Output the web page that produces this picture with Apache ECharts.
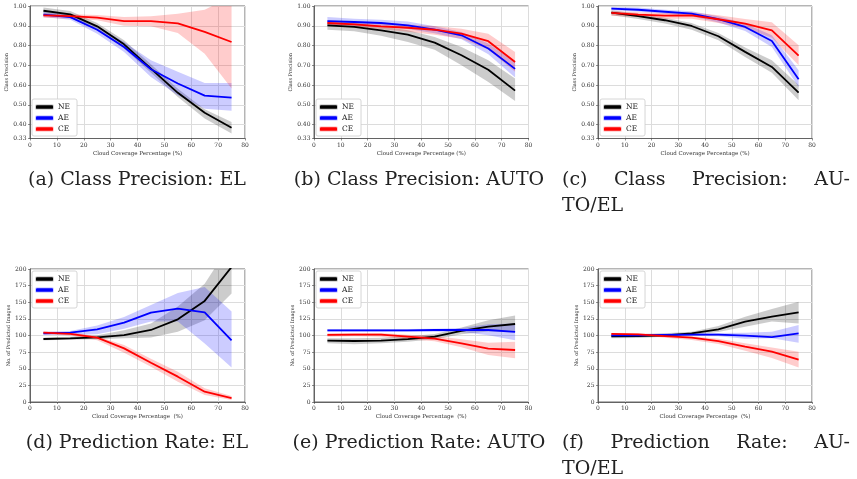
<!DOCTYPE html>
<html>
<head>
<meta charset="utf-8">
<script src="https://cdn.jsdelivr.net/npm/echarts@6.0.0/dist/echarts.min.js"></script>
<style>
  html, body { margin: 0; padding: 0; background: #fff; }
  #main { width: 857px; height: 479px; }
</style>
</head>
<body>
<div id="main"></div>
<script>
// cloud coverage bins (%)
var cover = [5, 15, 25, 35, 45, 55, 65, 75];

// (a) class precision, EL
var elPrecNE = [0.976, 0.958, 0.897, 0.806, 0.683, 0.561, 0.46, 0.384];
var elPrecNELo = [0.961, 0.94, 0.877, 0.785, 0.662, 0.54, 0.431, 0.355];
var elPrecNEHi = [0.993, 0.975, 0.914, 0.827, 0.705, 0.582, 0.478, 0.414];
var elPrecAE = [0.956, 0.944, 0.88, 0.793, 0.68, 0.608, 0.547, 0.537];
var elPrecAELo = [0.944, 0.93, 0.86, 0.768, 0.641, 0.549, 0.481, 0.47];
var elPrecAEHi = [0.97, 0.958, 0.897, 0.818, 0.726, 0.667, 0.611, 0.611];
var elPrecCE = [0.953, 0.949, 0.941, 0.924, 0.924, 0.912, 0.869, 0.818];
var elPrecCELo = [0.941, 0.936, 0.928, 0.9, 0.897, 0.864, 0.759, 0.583];
var elPrecCEHi = [0.961, 0.958, 0.955, 0.944, 0.948, 0.961, 0.981, 1.05];

// (b) class precision, AUTO
var autoPrecNE = [0.902, 0.894, 0.877, 0.855, 0.815, 0.751, 0.678, 0.572];
var autoPrecNELo = [0.88, 0.872, 0.85, 0.818, 0.779, 0.70, 0.616, 0.52];
var autoPrecNEHi = [0.919, 0.914, 0.897, 0.877, 0.843, 0.793, 0.726, 0.633];
var autoPrecAE = [0.924, 0.919, 0.914, 0.902, 0.88, 0.852, 0.785, 0.682];
var autoPrecAELo = [0.907, 0.902, 0.897, 0.884, 0.862, 0.832, 0.756, 0.638];
var autoPrecAEHi = [0.944, 0.936, 0.931, 0.921, 0.897, 0.869, 0.81, 0.717];
var autoPrecCE = [0.914, 0.907, 0.897, 0.89, 0.88, 0.86, 0.822, 0.717];
var autoPrecCELo = [0.901, 0.894, 0.884, 0.87, 0.854, 0.835, 0.78, 0.667];
var autoPrecCEHi = [0.928, 0.921, 0.911, 0.907, 0.899, 0.885, 0.86, 0.768];

// (c) class precision, AUTO/EL
var mixPrecNE = [0.966, 0.949, 0.928, 0.899, 0.847, 0.768, 0.692, 0.562];
var mixPrecNELo = [0.953, 0.934, 0.911, 0.88, 0.827, 0.742, 0.662, 0.524];
var mixPrecNEHi = [0.978, 0.961, 0.941, 0.914, 0.864, 0.79, 0.726, 0.6];
var mixPrecAE = [0.987, 0.981, 0.971, 0.961, 0.933, 0.894, 0.823, 0.63];
var mixPrecAELo = [0.978, 0.971, 0.961, 0.948, 0.916, 0.874, 0.793, 0.591];
var mixPrecAEHi = [0.995, 0.992, 0.981, 0.973, 0.948, 0.911, 0.852, 0.675];
var mixPrecCE = [0.965, 0.956, 0.951, 0.953, 0.933, 0.911, 0.877, 0.749];
var mixPrecCELo = [0.951, 0.944, 0.936, 0.936, 0.914, 0.887, 0.84, 0.70];
var mixPrecCEHi = [0.975, 0.968, 0.965, 0.968, 0.953, 0.934, 0.918, 0.801];

// (d) no. of predicted images, EL
var elRateNE = [94.7, 95.7, 97.2, 100.7, 108.3, 124.3, 152, 203];
var elRateNELo = [92.7, 93.7, 94.2, 95.7, 97, 105.8, 123, 163];
var elRateNEHi = [96.7, 98.2, 100.3, 108, 118, 143.6, 178, 240];
var elRateAE = [103.3, 104.3, 109.3, 119.3, 134.3, 140.4, 134.8, 92.7];
var elRateAELo = [100.8, 100.8, 102, 110, 121, 121, 88, 52];
var elRateAEHi = [105.8, 106.8, 115, 128, 146, 164, 173, 136];
var elRateCE = [104.3, 102.3, 96.7, 80.7, 59.1, 38.1, 15.5, 6];
var elRateCELo = [102.3, 100, 93, 74.2, 53, 30.6, 10.5, 3];
var elRateCEHi = [106, 105, 99, 85.7, 65, 45.6, 20.5, 9];

// (e) no. of predicted images, AUTO
var autoRateNE = [92.2, 91.7, 92.2, 94.7, 98.2, 106.8, 113.3, 117.3];
var autoRateNELo = [88.3, 87, 88.3, 90.7, 94.2, 102, 106, 106];
var autoRateNEHi = [96, 96, 96.5, 99, 102.3, 112, 123, 130];
var autoRateAE = [107.8, 107.8, 107.8, 107.8, 108.3, 108.3, 108.3, 105.3];
var autoRateAELo = [105.8, 105.8, 105.8, 105.8, 105.8, 105.3, 100.5, 93];
var autoRateAEHi = [109.8, 109.8, 109.8, 109.8, 110.3, 111.3, 117, 118];
var autoRateCE = [100.8, 101.3, 101.3, 98.2, 95.2, 88.2, 80.2, 78.2];
var autoRateCELo = [98.2, 98.7, 98.2, 94.2, 91.2, 82.2, 70.7, 65.7];
var autoRateCEHi = [103.3, 103.8, 103.8, 101.3, 99.2, 94.2, 89.2, 90.7];

// (f) no. of predicted images, AUTO/EL
var mixRateNE = [98.7, 99.2, 100.3, 103.3, 109.3, 120.8, 128.3, 134.8];
var mixRateNELo = [95.7, 96.2, 98.2, 100.8, 105.3, 113.3, 121, 118];
var mixRateNEHi = [101.3, 101.8, 103.3, 105.8, 114.3, 128.3, 139.8, 150.9];
var mixRateAE = [100.3, 100.3, 100.8, 101.3, 101.3, 99.7, 97.7, 103.3];
var mixRateAELo = [98.2, 98.2, 98.7, 99.2, 98.7, 95.2, 95.7, 89.2];
var mixRateAEHi = [102.3, 102.3, 102.8, 103.3, 103.8, 104.3, 105.8, 115.8];
var mixRateCE = [102.3, 101.8, 99.2, 96.7, 91.7, 83.2, 75.7, 63.7];
var mixRateCELo = [100.8, 100.3, 96.7, 93.2, 87.2, 77.2, 66, 52];
var mixRateCEHi = [103.8, 103.3, 101.3, 98.7, 95.2, 88.2, 82, 75.7];

var precTicks = [0.33, 0.40, 0.50, 0.60, 0.70, 0.80, 0.90, 1.00];

var panels = [
  { NE: [elPrecNE, elPrecNELo, elPrecNEHi], AE: [elPrecAE, elPrecAELo, elPrecAEHi], CE: [elPrecCE, elPrecCELo, elPrecCEHi] },
  { NE: [autoPrecNE, autoPrecNELo, autoPrecNEHi], AE: [autoPrecAE, autoPrecAELo, autoPrecAEHi], CE: [autoPrecCE, autoPrecCELo, autoPrecCEHi] },
  { NE: [mixPrecNE, mixPrecNELo, mixPrecNEHi], AE: [mixPrecAE, mixPrecAELo, mixPrecAEHi], CE: [mixPrecCE, mixPrecCELo, mixPrecCEHi] },
  { NE: [elRateNE, elRateNELo, elRateNEHi], AE: [elRateAE, elRateAELo, elRateAEHi], CE: [elRateCE, elRateCELo, elRateCEHi] },
  { NE: [autoRateNE, autoRateNELo, autoRateNEHi], AE: [autoRateAE, autoRateAELo, autoRateAEHi], CE: [autoRateCE, autoRateCELo, autoRateCEHi] },
  { NE: [mixRateNE, mixRateNELo, mixRateNEHi], AE: [mixRateAE, mixRateAELo, mixRateAEHi], CE: [mixRateCE, mixRateCELo, mixRateCEHi] }
];

var colors = { NE: '#000000', AE: '#0000ff', CE: '#ff0000' };
var bands = { NE: 'rgba(0,0,0,0.2)', AE: 'rgba(0,0,255,0.2)', CE: 'rgba(255,0,0,0.2)' };
var serif = '"DejaVu Serif", serif';
var capFont = '19px "DejaVu Serif", serif';

var lefts = [30, 314, 598];
var widths = [215, 214.5, 214];

var myChart = echarts.init(document.getElementById('main'));

var grid = [], xAxis = [], yAxis = [], series = [], legend = [];

// shaded band between lo and hi, drawn once as a polygon through the axis scales
function bandItem(lo, hi, fill) {
  return function (params, api) {
    if (params.dataIndex !== 0) return null;
    var pts = [];
    for (var j = 0; j < cover.length; j++) pts.push(api.coord([cover[j], lo[j]]));
    for (var j = cover.length - 1; j >= 0; j--) pts.push(api.coord([cover[j], hi[j]]));
    return { type: 'polygon', shape: { points: pts }, style: { fill: fill } };
  };
}

panels.forEach(function (p, i) {
  var col = i % 3, row = Math.floor(i / 3);
  var isPrec = row === 0;
  grid.push({
    left: lefts[col], top: isPrec ? 6 : 269, width: widths[col], height: isPrec ? 132.5 : 133,
    show: true, borderColor: '#444', borderWidth: 0.8
  });
  xAxis.push({
    gridIndex: i, type: 'value', min: 0, max: 80, interval: 10,
    name: isPrec ? 'Cloud Coverage Percentage (%)' : 'Cloud Coverage Percentage  (%)',
    nameLocation: 'middle', nameGap: 12,
    nameTextStyle: { fontFamily: serif, fontSize: 5.5, color: '#333' },
    axisLine: { lineStyle: { color: '#444', width: 0.8 } },
    axisTick: { length: 2, lineStyle: { color: '#444', width: 0.6 } },
    axisLabel: { fontFamily: serif, fontSize: 6, color: '#333', margin: 3.5 },
    splitLine: { show: true, lineStyle: { color: '#dcdcdc', width: 1 } }
  });
  yAxis.push({
    gridIndex: i, type: 'value',
    min: isPrec ? 0.33 : 0, max: isPrec ? 1 : 200,
    interval: isPrec ? undefined : 25,
    name: isPrec ? 'Class Precision' : 'No. of Predicted Images',
    nameLocation: 'middle', nameGap: isPrec ? 19.5 : 18.5,
    nameTextStyle: { fontFamily: serif, fontSize: 5, color: '#333' },
    axisLine: { show: true, lineStyle: { color: '#444', width: 0.8 } },
    axisTick: { show: true, length: 2, lineStyle: { color: '#444', width: 0.6 },
      customValues: isPrec ? precTicks : undefined },
    axisLabel: { fontFamily: serif, fontSize: 6, color: '#333', margin: 3.5,
      customValues: isPrec ? precTicks : undefined,
      formatter: isPrec ? function (v) { return v.toFixed(2); } : '{value}' },
    splitLine: { show: true, lineStyle: { color: '#dcdcdc', width: 1 } }
  });

  ['NE', 'AE', 'CE'].forEach(function (k) {
    var mean = p[k][0], lo = p[k][1], hi = p[k][2];
    series.push({
      name: k + ' band', type: 'custom', xAxisIndex: i, yAxisIndex: i,
      silent: true, clip: true,
      renderItem: bandItem(lo, hi, bands[k]),
      encode: { x: 0, y: [1, 2] },
      data: cover.map(function (x, j) { return [x, lo[j], hi[j]]; }),
      z: 1
    });
    series.push({
      name: k, type: 'line', xAxisIndex: i, yAxisIndex: i,
      symbol: 'none', silent: true,
      itemStyle: { color: colors[k], borderColor: bands[k], borderWidth: 1.5 },
      lineStyle: { color: colors[k], width: 1.8 },
      data: cover.map(function (x, j) { return [x, mean[j]]; }),
      z: 3
    });
  });

  legend.push({
    orient: 'vertical', left: lefts[col] + 2, top: isPrec ? 99 : 271,
    data: ['NE', 'AE', 'CE'], icon: 'roundRect',
    itemWidth: 17, itemHeight: 3.5, itemGap: 3, selectedMode: false,
    textStyle: { fontFamily: serif, fontSize: 7.5, color: '#222' },
    backgroundColor: '#fff', borderColor: '#cccccc', borderWidth: 0.8, borderRadius: 2,
    padding: [4, 7, 3, 3]
  });
});

// captions under each panel
var ctx = document.createElement('canvas').getContext('2d');
ctx.font = capFont;

function capText(text, x, y, align) {
  return { type: 'text', x: x, y: y, silent: true,
    style: { text: text, font: capFont, fill: '#222', textAlign: align, textVerticalAlign: 'middle' } };
}

function justified(words, x0, x1, y) {
  var total = 0;
  words.forEach(function (w) { total += ctx.measureText(w).width; });
  var gap = (x1 - x0 - total) / (words.length - 1);
  var x = x0, out = [];
  words.forEach(function (w) {
    out.push(capText(w, x, y, 'left'));
    x += ctx.measureText(w).width + gap;
  });
  return out;
}

var graphic = [
  capText('(a) Class Precision: EL', 137, 180, 'center'),
  capText('(b) Class Precision: AUTO', 419, 180, 'center'),
  capText('TO/EL', 562, 206, 'left'),
  capText('(d) Prediction Rate: EL', 137, 443, 'center'),
  capText('(e) Prediction Rate: AUTO', 419, 443, 'center'),
  capText('TO/EL', 562, 469, 'left')
].concat(justified(['(c)', 'Class', 'Precision:', 'AU-'], 562, 850, 180))
 .concat(justified(['(f)', 'Prediction', 'Rate:', 'AU-'], 562, 850, 443));

var option = {
  animation: false,
  backgroundColor: '#fff',
  grid: grid,
  xAxis: xAxis,
  yAxis: yAxis,
  legend: legend,
  series: series,
  graphic: graphic
};

myChart.setOption(option);
</script>
</body>
</html>
